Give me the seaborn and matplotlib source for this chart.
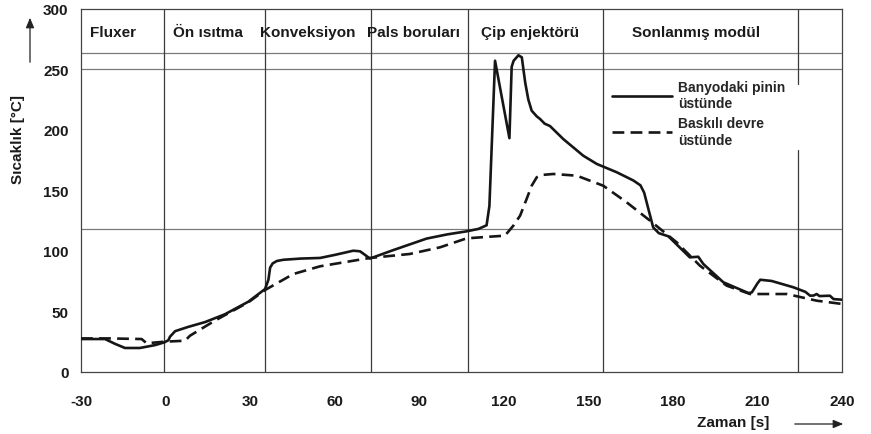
import numpy as np
import pandas as pd
import matplotlib
matplotlib.use("Agg")
import matplotlib.pyplot as plt
import seaborn as sns

# ---- data ----
pin_time = [-30, -21.5, -17.9, -14.4, -9.1, -3.7, -0.4, 1.0, 1.6, 3.4, 8, 14, 21.1, 29.4,
            35.3, 36.5, 37.1, 38.0, 39.5, 41.8, 48, 54.8, 60, 66.6, 69, 70.5, 72.5, 80.8, 92.6,
            100, 106.8, 111, 113.9, 114.9, 116.9, 122, 122.8, 123.5, 125.2, 126.4, 127.6,
            128.7, 129.9, 131.7, 132.9, 134.5, 136.4, 141.1, 148.2, 153, 160.1, 166, 168.5,
            169.8, 171.3, 173, 175, 178.4, 186, 189, 190.8, 197.9, 206.8, 208, 210, 211, 215,
            222.7, 227, 228.7, 230, 231, 232, 235.7, 237, 240]
pin_temp = [27, 27, 23, 19.6, 19.6, 22, 24.3, 26, 29, 33.5, 37, 41, 47.5, 57.9,
            68.3, 76, 86, 89.5, 91.5, 92.5, 93.5, 94, 96.5, 100, 99.5, 97, 93.5, 100.5, 110,
            113.5, 116, 118, 121, 137, 257, 193, 252, 257, 261.5, 259.8, 239,
            225, 215.7, 211, 208.8, 205, 203, 192.3, 178.5, 171.7, 164.8, 158, 154,
            148, 134.5, 119.3, 114.5, 111.9, 94.5, 95, 89, 73.9, 65, 65.5, 73, 76, 75,
            69.8, 66, 62.8, 63, 64.2, 62.5, 62.8, 60, 59.5]

pcb_time = [-30, -20, -8.5, -6.7, -0.4, 6.9, 8.7, 17.5, 29.4, 35.3, 45.3, 54.8, 72.5,
            86.7, 97.4, 106.8, 115.1, 120.4, 123.4, 125.8, 128.1, 129.9, 131.7, 133.5,
            137.6, 145.9, 155.3, 163.6, 171.9, 181.3, 189.6, 199.1, 207.4, 211, 220.4,
            231, 240]
pcb_temp = [27.5, 27.5, 27, 23.5, 24.8, 25.6, 29.8, 42.2, 57.4, 67.5, 80.7, 87.1, 94,
            97.3, 102.8, 110.2, 111.6, 112.4, 120.7, 129, 142.7, 153.7, 160.7, 162.6,
            163.4, 162, 153.7, 140, 124.8, 107, 87.6, 71.1, 64.2, 64.2, 64.2,
            58.7, 56]

series_labels = ["Banyodaki pinin\nüstünde", "Baskılı devre\nüstünde"]

zone_names = ["Fluxer", "Ön ısıtma", "Konveksiyon", "Pals boruları", "Çip enjektörü", "Sonlanmış modül"]
zone_centers = [-18.6, 15.1, 50.5, 88.1, 129.5, 188.2]
zone_bounds = [-0.4, 35.3, 72.9, 107.3, 155.3]
last_bound = 224.3
ref_levels = [118, 250, 263]

x_ticks = [-30, 0, 30, 60, 90, 120, 150, 180, 210, 240]
y_ticks = [0, 50, 100, 150, 200, 250, 300]

# ---- style ----
sns.set_theme(style="white")
plt.rcParams['font.family'] = ['Liberation Sans', 'DejaVu Sans']
plt.rcParams['font.weight'] = 'bold'
plt.rcParams['lines.scale_dashes'] = False
plt.rcParams['axes.unicode_minus'] = False

df = pd.concat([
    pd.DataFrame({"t": pin_time, "T": pin_temp, "s": series_labels[0]}),
    pd.DataFrame({"t": pcb_time, "T": pcb_temp, "s": series_labels[1]}),
])

fig = plt.figure(figsize=(8.71, 4.35), dpi=100)
ax = fig.add_axes([81/871, 1-372.7/435, 761/871, 363/435])

# reference lines
for lv in ref_levels:
    ax.axhline(lv, color="#7a7a7a", lw=0.9, zorder=1)
for b in zone_bounds:
    ax.axvline(b, color="#3a3a3a", lw=0.9, zorder=1)
ax.axvline(last_bound, ymin=0, ymax=183/300, color="#3a3a3a", lw=0.9, zorder=1)
ax.axvline(last_bound, ymin=238/300, ymax=1, color="#3a3a3a", lw=0.9, zorder=1)

sns.lineplot(data=df, x="t", y="T", style="s", sort=False, estimator=None,
             dashes={series_labels[0]: "", series_labels[1]: (8.5, 4.5)},
             color="#161616", linewidth=1.9, ax=ax, zorder=3)

ax.set_xlim(-30, 240)
ax.set_ylim(0, 300)
ax.set_xticks(x_ticks)
ax.set_yticks(y_ticks)
ax.tick_params(axis="both", direction="out", length=5, width=0.9, color="#777777",
               labelsize=11, labelcolor="#1a1a1a")
for lab in ax.get_xticklabels() + ax.get_yticklabels():
    lab.set_fontweight("bold")
ax.tick_params(axis="x", pad=11)
ax.tick_params(axis="y", pad=4)
for sp in ax.spines.values():
    sp.set_color("#444444")
    sp.set_linewidth(0.9)
ax.set_xlabel("")
ax.set_ylabel("")

for name, cx in zip(zone_names, zone_centers):
    ax.text(cx, 281, name, ha="center", va="center", fontsize=11, fontweight="bold",
            color="#1a1a1a", zorder=4)

# legend
handles, labels = ax.get_legend_handles_labels()
leg = ax.legend(handles, labels, loc="upper left", bbox_to_anchor=(0.6925, 0.815),
                fontsize=10, handlelength=4.3, handletextpad=0.45, labelspacing=0.45,
                frameon=False, borderpad=0.3, borderaxespad=0)
leg.set_zorder(5)
for t in leg.get_texts():
    t.set_fontweight("bold")

# axis labels with arrows
fig.text(733/871, 1-423/435, "Zaman [s]", ha="center", va="center", fontsize=11,
         fontweight="bold", color="#1a1a1a")
fig.text(18/871, 1-140/435, "Sıcaklık [°C]", ha="center", va="center", rotation=90,
         fontsize=11, fontweight="bold", color="#1a1a1a")
fig.add_artist(matplotlib.patches.FancyArrowPatch(
    (792/871, 1-425/435), (846/871, 1-425/435), transform=fig.transFigure,
    arrowstyle="-|>,head_length=6,head_width=2.5", color="#222222", lw=0.9))
fig.add_artist(matplotlib.patches.FancyArrowPatch(
    (30/871, 1-66/435), (30/871, 1-16/435), transform=fig.transFigure,
    arrowstyle="-|>,head_length=6,head_width=2.5", color="#222222", lw=0.9))

fig.savefig("out.png", dpi=100)
